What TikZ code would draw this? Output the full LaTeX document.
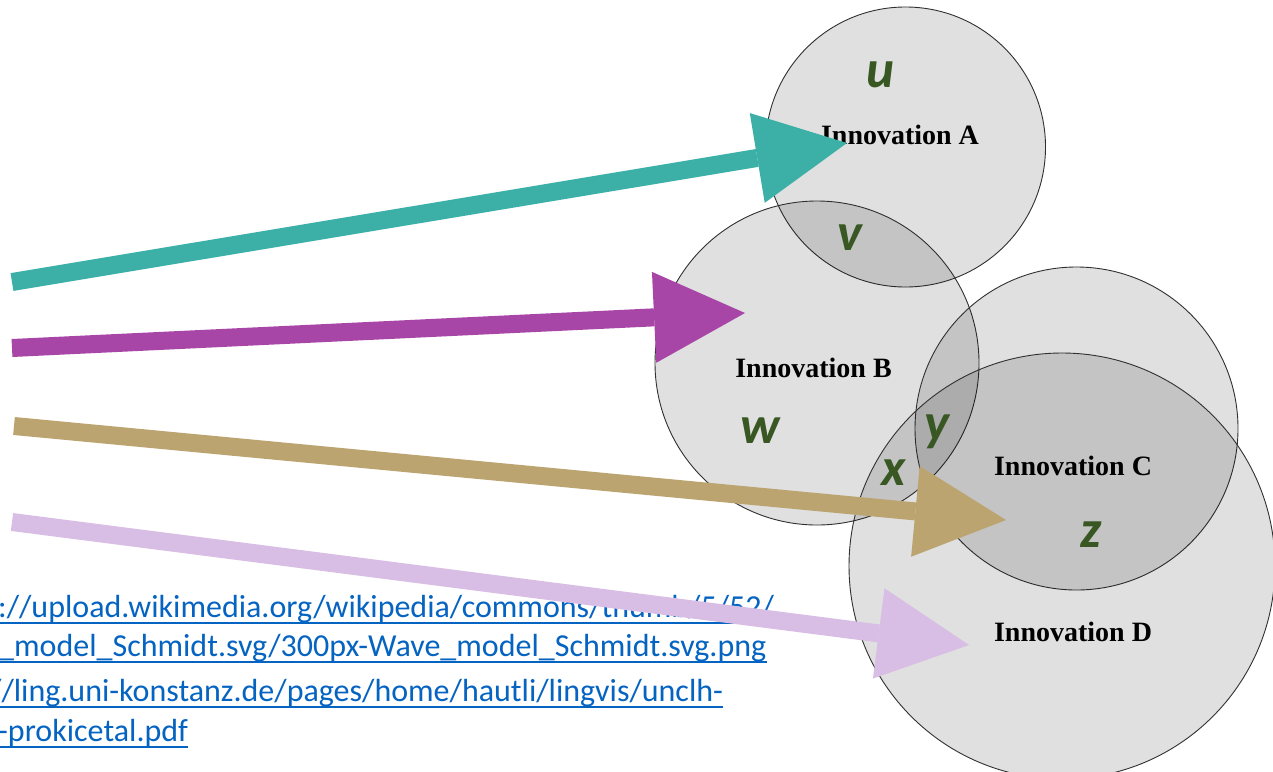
\documentclass[tikz,border=0pt]{standalone}
\usepackage{fontspec}
\usetikzlibrary{arrows.meta}
\newfontfamily\calfont{Carlito}
\newfontfamily\timesfont{Liberation Serif}
\definecolor{tealA}{HTML}{3CB0A6}
\definecolor{purpB}{HTML}{A846A7}
\definecolor{tanC}{HTML}{BBA46F}
\definecolor{lavD}{HTML}{D8BDE4}
\definecolor{lblgreen}{HTML}{385723}
\definecolor{linkblue}{HTML}{0563C1}
\definecolor{rim}{HTML}{303030}
\begin{document}
\begin{tikzpicture}[x=1pt,y=-1pt,
  venn/.style={circle, draw=rim, line width=0.9pt, fill=black, fill opacity=0.12, draw opacity=1, inner sep=0pt, outer sep=0pt},
  innov/.style={anchor=base, inner sep=0pt, font=\timesfont\bfseries\fontsize{28}{32}\selectfont},
  setlbl/.style={anchor=base, inner sep=0pt, text=lblgreen, font=\calfont\bfseries\itshape\fontsize{53}{60}\selectfont},
  urltext/.style={anchor=base west, inner sep=0pt, text=linkblue, font=\calfont\fontsize{32}{36}\selectfont},
  uline/.style={draw=linkblue, line width=2pt},
  bigarrow/.style={line width=18pt, -{Triangle[length=91pt,width=91pt,line width=0pt]}}
]
\useasboundingbox (0,0) rectangle (1273,771);
\fill[white] (0,0) rectangle (1273,771);

% circles
\node[venn, minimum size=280pt] (cA) at (905.5,147) {};
\node[venn, minimum size=324pt] (cB) at (817,363) {};
\node[venn, minimum size=323pt] (cC) at (1076.5,428.5) {};
\node[venn, minimum size=426pt] (cD) at (1062,566) {};

% circle titles
\node[innov] (tA) at (900,144) {Innovation A};
\node[innov] (tB) at (813.5,377) {Innovation B};
\node[innov] (tC) at (1073,475) {Innovation C};
\node[innov] (tD) at (1073,641) {Innovation D};

% region letters
\node[setlbl] (lu) at (880,87) {u};
\node[setlbl] (lv) at (850,250) {v};
\node[setlbl] (lw) at (760,443) {w};
\node[setlbl] (ly) at (937,440) {y};
\node[setlbl] (lx) at (894,485) {x};
\node[setlbl] (lz) at (1091,547) {z};

% links
\node[urltext] (u1) at (-2,617) {://upload.wikimedia.org/wikipedia/commons/thumb/5/52/};
\node[urltext] (u2) at (-2,656) {\_model\_Schmidt.svg/300px-Wave\_model\_Schmidt.svg.png};
\node[urltext] (u3) at (-11,701) {//ling.uni-konstanz.de/pages/home/hautli/lingvis/unclh-};
\node[urltext] (u4) at (-2,741) {-prokicetal.pdf};
\draw[uline] ([yshift=-6pt]u1.base west) -- ([yshift=-6pt]u1.base east);
\draw[uline] ([yshift=-6pt]u2.base west) -- ([yshift=-6pt]u2.base east);
\draw[uline] ([yshift=-6pt]u3.base west) -- ([yshift=-6pt]u3.base east);
\draw[uline] ([yshift=-6pt]u4.base west) -- ([yshift=-6pt]u4.base east);

% arrows
\coordinate (sA) at (12,282);  \coordinate (eA) at (847,143);
\coordinate (sB) at (12,348);  \coordinate (eB) at (745,313);
\coordinate (sC) at (14,426);  \coordinate (eC) at (1006,520);
\coordinate (sD) at (12,522);  \coordinate (eD) at (969,645);
\draw[bigarrow, draw=tealA, fill=tealA] (sA) -- (eA);
\draw[bigarrow, draw=purpB, fill=purpB] (sB) -- (eB);
\draw[bigarrow, draw=tanC, fill=tanC] (sC) -- (eC);
\draw[bigarrow, draw=lavD, fill=lavD] (sD) -- (eD);
\end{tikzpicture}
\end{document}
